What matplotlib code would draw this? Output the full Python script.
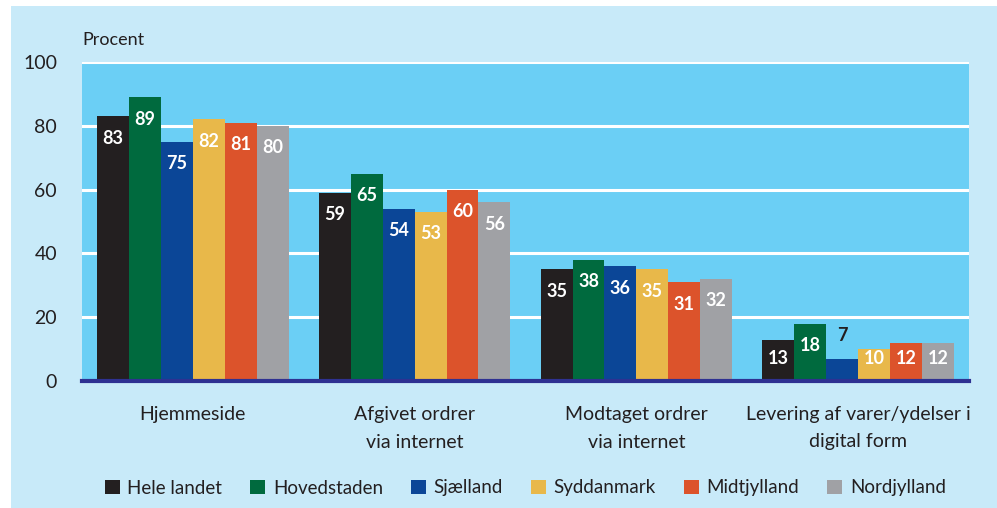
import numpy as np
import matplotlib
matplotlib.use("Agg")
import matplotlib.pyplot as plt
from matplotlib.patches import Rectangle

CATEGORIES = ["Hjemmeside", "Afgivet ordrer\nvia internet",
              "Modtaget ordrer\nvia internet", "Levering af varer/ydelser i\ndigital form"]
REGIONS = ["Hele landet", "Hovedstaden", "Sjælland", "Syddanmark", "Midtjylland", "Nordjylland"]
HELE_LANDET = [83, 59, 35, 13]
HOVEDSTADEN = [89, 65, 38, 18]
SJAELLAND = [75, 54, 36, 7]
SYDDANMARK = [82, 53, 35, 10]
MIDTJYLLAND = [81, 60, 31, 12]
NORDJYLLAND = [80, 56, 32, 12]
SERIES = [HELE_LANDET, HOVEDSTADEN, SJAELLAND, SYDDANMARK, MIDTJYLLAND, NORDJYLLAND]
COLORS = ["#231f20", "#006a3e", "#0b4697", "#e8b84a", "#dc532b", "#a0a1a5"]
YTICKS = [0, 20, 40, 60, 80, 100]

TEXT = "#231f20"
plt.rcParams["font.family"] = ["Lato", "DejaVu Sans"]

fig = plt.figure(figsize=(9.97, 5.08), dpi=100, facecolor="white")
fig.patches.append(Rectangle((11 / 997, 0), 1, (508 - 6) / 508, transform=fig.transFigure,
                             facecolor="#c8eaf9", edgecolor="none", zorder=-10))
ax = fig.add_axes([82 / 997, 127 / 508, 887 / 997, 319 / 508])
ax.set_facecolor("#6bcff5")

x = np.arange(len(CATEGORIES))
w = 0.144
for i, (vals, color) in enumerate(zip(SERIES, COLORS)):
    pos = x + (i - 2.5) * w
    ax.bar(pos, vals, width=w, color=color, zorder=3)
    for p, v in zip(pos, vals):
        if v < 10:
            ax.annotate(str(v), (p, v), xytext=(0, 17), textcoords="offset points",
                        ha="center", va="center", color=TEXT, fontsize=13, fontweight="bold")
        else:
            # label sits below the bar top, but never closer than ~7 units to the base
            ax.text(p, max(v - 6.9, 7.2), str(v), ha="center", va="center", color="white",
                    fontsize=13, fontweight="bold", zorder=4)

ax.set_xlim(-0.5, 3.5)
ax.set_ylim(0, 100)
ax.set_yticks(YTICKS)
ax.set_yticklabels([str(t) for t in YTICKS], fontsize=14, color=TEXT)
ax.tick_params(axis="y", length=0, pad=18)
ax.set_xticks(x)
ax.set_xticklabels(CATEGORIES, fontsize=14, color=TEXT, linespacing=1.75)
ax.tick_params(axis="x", length=0, pad=18)
for t in YTICKS[1:]:
    ax.axhline(t, color="white", lw=2.2, zorder=1)
ax.axhline(0, color="#2e3192", lw=3, zorder=5, clip_on=False)
for s in ax.spines.values():
    s.set_visible(False)

fig.text(82 / 997, 1 - 40 / 508, "Procent", fontsize=13, color=TEXT, ha="left", va="center")

handles = [Rectangle((0, 0), 1, 1, fc=c) for c in COLORS]
fig.legend(handles, REGIONS, loc="center", bbox_to_anchor=(0.527, 20 / 508), ncol=6,
           frameon=False, fontsize=13.5, handlelength=0.8, handleheight=0.8,
           handletextpad=0.4, columnspacing=1.5, labelcolor=TEXT)

fig.savefig("out.png", dpi=100, facecolor="white")
